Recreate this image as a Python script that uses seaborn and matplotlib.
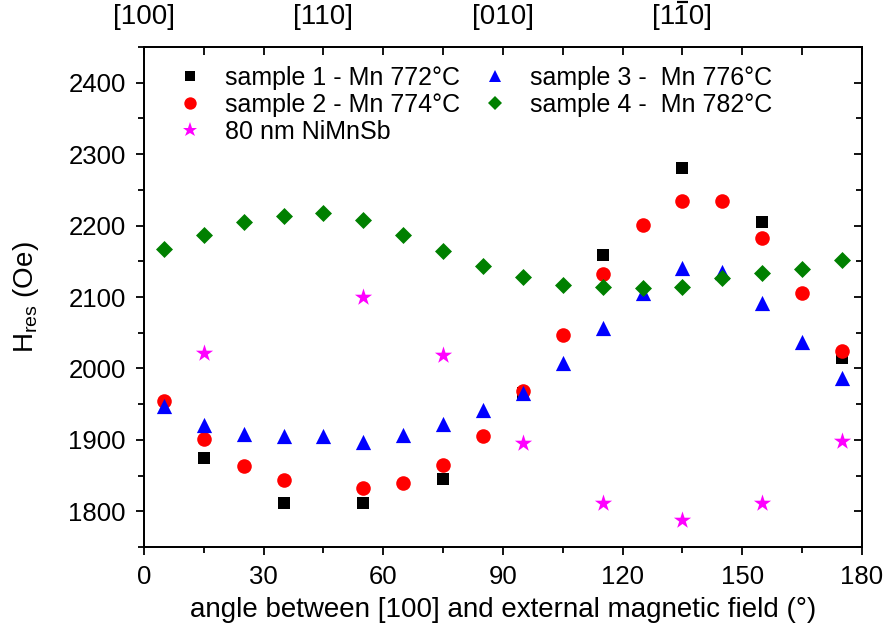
import matplotlib
matplotlib.use("Agg")
import matplotlib.pyplot as plt
from matplotlib.lines import Line2D
import seaborn as sns
import numpy as np
import pandas as pd

sns.set_theme(style="ticks")
plt.rcParams['font.family'] = ['Liberation Sans', 'DejaVu Sans']
plt.rcParams['mathtext.fontset'] = 'custom'
plt.rcParams['mathtext.rm'] = 'Liberation Sans'
plt.rcParams['mathtext.it'] = 'Liberation Sans'
plt.rcParams['mathtext.bf'] = 'Liberation Sans'
plt.rcParams['text.color'] = 'black'
plt.rcParams['axes.labelcolor'] = 'black'
plt.rcParams['xtick.color'] = 'black'
plt.rcParams['ytick.color'] = 'black'
plt.rcParams['xtick.labelcolor'] = 'black'
plt.rcParams['ytick.labelcolor'] = 'black'

# ---- data ----
s1_angle = [15, 35, 55, 75, 95, 115, 135, 155, 175]
s1_h = [1874, 1812, 1812, 1845, 1966, 2159, 2281, 2205, 2015]

s2_angle = [5, 15, 25, 35, 55, 65, 75, 85, 95, 105, 115, 125, 135, 145, 155, 165, 175]
s2_h = [1954, 1901, 1864, 1844, 1833, 1840, 1865, 1906, 1969, 2047, 2132, 2201, 2234, 2234, 2183, 2105, 2025]

s3_angle = [5, 15, 25, 35, 45, 55, 65, 75, 85, 95, 105, 115, 125, 135, 145, 155, 165, 175]
s3_h = [1947, 1921, 1908, 1905, 1906, 1897, 1907, 1922, 1942, 1966, 2008, 2056, 2105, 2140, 2135, 2092, 2037, 1986]

s4_angle = [5, 15, 25, 35, 45, 55, 65, 75, 85, 95, 105, 115, 125, 135, 145, 155, 165, 175]
s4_h = [2167, 2187, 2205, 2214, 2218, 2208, 2187, 2165, 2144, 2128, 2117, 2114, 2112, 2114, 2127, 2133, 2139, 2152]

ni_angle = [15, 55, 75, 95, 115, 135, 155, 175]
ni_h = [2022, 2100, 2019, 1896, 1812, 1788, 1812, 1899]

labels = ["sample 1 - Mn 772°C", "sample 2 - Mn 774°C", "sample 3 -  Mn 776°C",
          "sample 4 -  Mn 782°C", "80 nm NiMnSb"]
top_tick_pos = [0, 45, 90, 135]
top_tick_labels = ["[100]", "[110]", "[010]", "[110]"]   # last one: middle 1 gets an overbar

fig = plt.figure(figsize=(8.9, 6.31), dpi=100)
ax = fig.add_axes([0.1618, 0.1331, 0.8067, 0.7924])

series = [
    (s1_angle, s1_h, labels[0], "black", "s", 80),
    (s2_angle, s2_h, labels[1], "red", "o", 110),
    (s3_angle, s3_h, labels[2], "blue", "^", 120),
    (s4_angle, s4_h, labels[3], "green", "D", 75),
    (ni_angle, ni_h, labels[4], "magenta", "*", 170),
]
for xs, ys, lab, col, mk, s in series:
    df = pd.DataFrame({"angle": xs, "H": ys})
    sns.scatterplot(data=df, x="angle", y="H", ax=ax, color=col, marker=mk, s=s,
                    linewidth=0, legend=False)

leg_handles = []
for xs, ys, lab, col, mk, s in series:
    leg_handles.append(Line2D([], [], linestyle='none', marker=mk, color=col,
                              markersize=np.sqrt(s) * 0.85, markeredgewidth=0))
order = [0, 1, 4, 2, 3]
ax.legend([leg_handles[i] for i in order], [labels[i] for i in order], ncol=2,
          frameon=False, fontsize=18, loc="upper left", bbox_to_anchor=(0.02, 1.0),
          handletextpad=0.9, columnspacing=0.9, labelspacing=0.12, borderaxespad=0.35,
          handlelength=1.0)

ax.set_xlim(0, 180)
ax.set_ylim(1750, 2450)
ax.set_xticks(np.arange(0, 181, 30))
ax.set_xticks(np.arange(0, 181, 15), minor=True)
ax.set_yticks(np.arange(1800, 2401, 100))
ax.set_yticks(np.arange(1750, 2451, 50), minor=True)
ax.tick_params(axis='both', which='major', direction='out', length=6, width=1.3,
               labelsize=18.5, color='black', labelcolor='black', pad=7)
ax.tick_params(axis='both', which='minor', direction='out', length=4, width=1.3, color='black')
ax.tick_params(axis='y', which='both', right=True, labelright=False)
for sp in ax.spines.values():
    sp.set_linewidth(1.3)
    sp.set_color('black')

ax.set_xlabel("angle between [100] and external magnetic field (°)", fontsize=20,
              labelpad=6, color='black')
ax.set_ylabel(r"H$_{\mathregular{res}}$ (Oe)", fontsize=20, labelpad=20, color='black')

# right ticks inward
for t in ax.yaxis.get_major_ticks() + ax.yaxis.get_minor_ticks():
    t.tick2line.set_marker(matplotlib.lines.TICKLEFT)

ax2 = ax.twiny()
ax2.set_xlim(ax.get_xlim())
ax2.set_xticks(top_tick_pos)
ax2.set_xticklabels(top_tick_labels)
ax2.set_xticks(np.arange(0, 181, 15), minor=True)
ax2.tick_params(axis='x', which='major', direction='in', length=6, width=1.3,
                labelsize=20, pad=12, color='black', labelcolor='black')
ax2.tick_params(axis='x', which='minor', direction='in', length=6, width=1.3, color='black')
for sp in ax2.spines.values():
    sp.set_linewidth(1.3)
    sp.set_color('black')

# overbar on the middle "1" of the last top label
fig.canvas.draw()
renderer = fig.canvas.get_renderer()
lbl = ax2.get_xticklabels()[3]
bb = lbl.get_window_extent(renderer)
tmp1 = fig.text(0, 0, "[1", fontsize=20)
tmp2 = fig.text(0, 0, "[11", fontsize=20)
w1 = tmp1.get_window_extent(renderer).width
w2 = tmp2.get_window_extent(renderer).width
tmp1.remove(); tmp2.remove()
x0 = bb.x0 + w1 + 1.5
x1 = bb.x0 + w2 - 1.5
ybar = bb.y1 + 2.5
inv = fig.transFigure.inverted()
(fx0, fy), (fx1, _) = inv.transform([(x0, ybar), (x1, ybar)])
fig.add_artist(Line2D([fx0, fx1], [fy, fy], transform=fig.transFigure,
                      color='black', linewidth=1.6, solid_capstyle='butt'))

fig.savefig("out.png", dpi=100)
